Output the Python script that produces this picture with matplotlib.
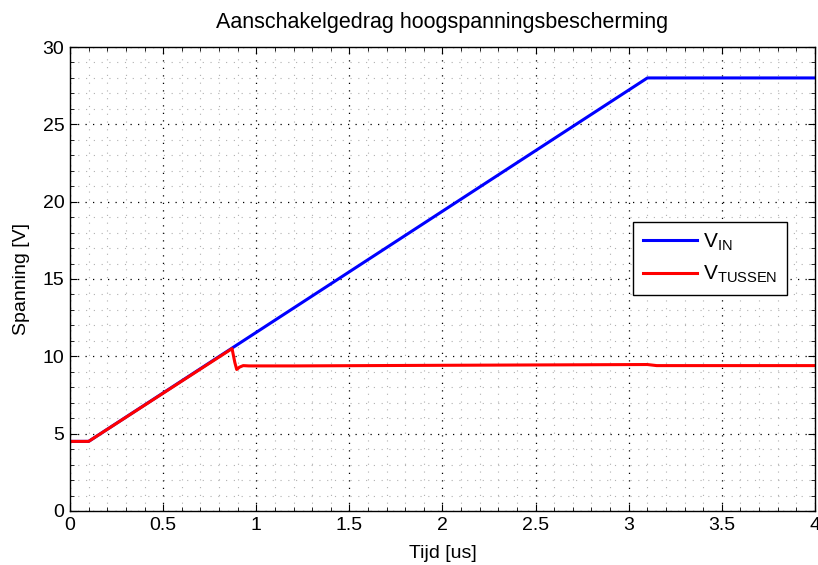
import matplotlib
matplotlib.use("Agg")
import matplotlib.pyplot as plt
import numpy as np

plt.rcParams['font.family'] = ['Liberation Sans', 'DejaVu Sans']
plt.rcParams['mathtext.default'] = 'regular'

# V_IN: flat, ramp, flat
t_in = [0.0, 0.1, 3.1, 4.0]
v_in = [4.5, 4.5, 28.0, 28.0]

# V_TUSSEN: follows V_IN until clamp kicks in
t_tus = [0.0, 0.1, 0.87, 0.885, 0.895, 0.91, 0.93, 0.96, 1.2, 2.0, 3.1, 3.15, 4.0]
v_tus = [4.5, 4.5, 10.5, 9.6, 9.15, 9.3, 9.4, 9.38, 9.38, 9.42, 9.47, 9.4, 9.4]

fig = plt.figure(figsize=(8.18, 5.65), dpi=100)
ax = fig.add_axes([0.0856, 0.0956, 0.9107, 0.8212])

ax.plot(t_in, v_in, color='blue', lw=2.2, label='V$_{IN}$')
ax.plot(t_tus, v_tus, color='red', lw=2.2, label='V$_{TUSSEN}$')

ax.set_xlim(0, 4)
ax.set_ylim(0, 30)
ax.set_xticks(np.arange(0, 4.01, 0.5))
ax.set_xticklabels(['0', '0.5', '1', '1.5', '2', '2.5', '3', '3.5', '4'])
ax.set_yticks(np.arange(0, 31, 5))
ax.set_xticks(np.arange(0, 4.01, 0.1), minor=True)
ax.set_yticks(np.arange(0, 31, 1), minor=True)
ax.tick_params(which='both', direction='in', top=True, right=True, labelsize=14)
ax.tick_params(which='major', length=5, pad=4)
ax.tick_params(which='minor', length=3)
ax.grid(which='major', color='black', linestyle=(0, (1, 5)), linewidth=0.9)
ax.grid(which='minor', color='#b0b0b0', linestyle=(0, (1, 6)), linewidth=0.8)
for s in ax.spines.values():
    s.set_linewidth(1.0)

ax.set_title('Aanschakelgedrag hoogspanningsbescherming', fontsize=15.5, pad=14)
ax.set_xlabel('Tijd [us]', fontsize=14, labelpad=8)
ax.set_ylabel('Spanning [V]', fontsize=14, labelpad=9)

leg = ax.legend(loc='upper left', bbox_to_anchor=(0.756, 0.623), fontsize=15,
                fancybox=False, framealpha=1, edgecolor='black',
                handlelength=2.6, handletextpad=0.3, borderpad=0.45,
                labelspacing=0.55, borderaxespad=0)
leg.get_frame().set_linewidth(1.0)

plt.savefig('out.png', dpi=100)
